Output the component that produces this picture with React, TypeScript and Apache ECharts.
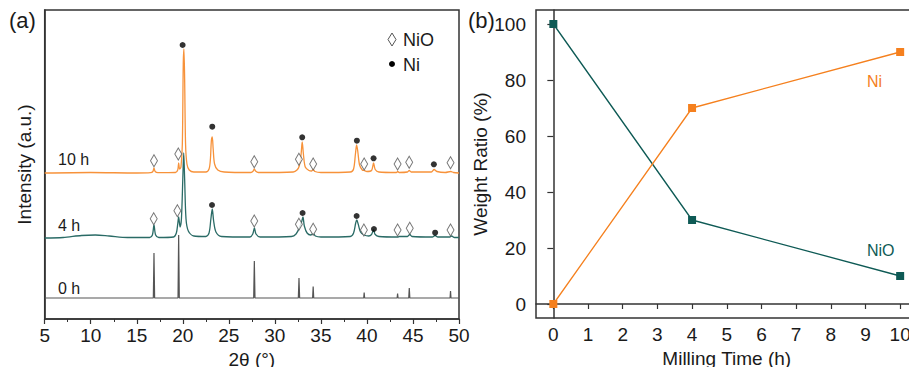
import React, { useEffect, useRef } from "react";
import * as echarts from "echarts";

// ---------- Panel (a): XRD patterns (2θ in degrees, offset intensity in a.u.) ----------
const XRD_0H: [number, number][] = [
  [5, 21], [16.8, 21], [16.87, 66], [16.94, 21], [19.48, 21], [19.55, 84], [19.62, 21],
  [27.7, 21], [27.77, 58], [27.84, 21], [32.55, 21], [32.62, 41], [32.69, 21],
  [34.1, 21], [34.16, 32.5], [34.22, 21], [39.65, 21], [39.7, 26.5], [39.75, 21],
  [43.28, 21], [43.33, 25.5], [43.38, 21], [44.54, 21], [44.6, 31], [44.66, 21],
  [49.03, 21], [49.08, 28], [49.13, 21], [50, 21],
];

const XRD_4H: [number, number][] = [
  [5, 81], [7, 81.5], [9, 83.5], [10.5, 84], [12, 83], [14, 81.5], [16.4, 81.5], [16.7, 84],
  [16.87, 94], [17.05, 84], [17.4, 81.5], [19.0, 82], [19.3, 86], [19.45, 95], [19.55, 102],
  [19.7, 92], [19.85, 100], [20.0, 140], [20.1, 166], [20.2, 140], [20.35, 100], [20.6, 88],
  [21.2, 83], [22.5, 82.5], [22.85, 86], [23.05, 100], [23.2, 110], [23.35, 98], [23.6, 87],
  [24.2, 82.5], [27.3, 82], [27.6, 85], [27.78, 91], [27.95, 85], [28.4, 82], [31.8, 82.5],
  [32.3, 85], [32.7, 92], [32.9, 97], [33.05, 102], [33.2, 93], [33.5, 86], [33.9, 84],
  [34.16, 85.5], [34.4, 83], [35, 82], [38.2, 82.5], [38.55, 86], [38.78, 96], [38.9, 99],
  [39.05, 95], [39.3, 87], [39.7, 84], [40.2, 83], [40.5, 84.5], [40.72, 89], [40.9, 84.5],
  [41.3, 82.5], [43.4, 82], [43.5, 82.5], [44.4, 82.5], [44.65, 84.5], [44.9, 82.5],
  [47.1, 82], [47.4, 83.5], [47.7, 82], [49.0, 82], [49.2, 83], [49.5, 81.5], [50, 81.5],
];

const XRD_10H: [number, number][] = [
  [5, 146], [10, 146.5], [15, 146], [16.5, 146.3], [16.75, 147.5], [16.87, 151], [17.0, 147.5],
  [17.3, 146.3], [19.2, 146.5], [19.45, 149], [19.55, 156], [19.65, 150], [19.8, 152],
  [19.95, 175], [20.05, 255], [20.12, 270], [20.2, 240], [20.3, 175], [20.45, 155], [20.7, 149],
  [21.2, 147], [22.5, 147], [22.85, 150], [23.0, 160], [23.1, 178], [23.2, 182], [23.3, 170],
  [23.45, 155], [23.8, 149], [24.5, 147], [27.4, 146.5], [27.65, 148], [27.76, 150], [27.9, 148],
  [28.2, 146.5], [32.0, 147], [32.4, 149], [32.65, 153], [32.85, 165], [32.97, 177], [33.1, 165],
  [33.3, 152], [33.7, 148.5], [34.0, 148], [34.16, 149.5], [34.35, 147.5], [35, 146.5],
  [38.2, 147], [38.55, 150], [38.75, 165], [38.88, 174], [39.0, 168], [39.2, 154], [39.5, 149],
  [39.7, 148.5], [40.0, 147.5], [40.5, 148.5], [40.72, 156], [40.9, 149.5], [41.3, 147],
  [43.2, 146.5], [43.35, 147.5], [43.5, 146.5], [44.4, 147], [44.6, 148.5], [44.8, 147],
  [47.0, 147], [47.3, 149.5], [47.6, 147.5], [48.5, 146.5], [49.1, 147.5], [49.4, 146.5], [50, 146],
];

// Phase markers (2θ, marker height)
const NIO_MARKS_10H: [number, number][] = [
  [16.87, 158.3], [19.51, 165], [27.76, 157.3], [32.61, 159.7], [34.16, 155],
  [39.7, 155], [43.33, 155], [44.59, 156.7], [49.08, 156.3],
];
const NI_MARKS_10H: [number, number][] = [
  [19.98, 274], [23.2, 192.3], [32.97, 181.7], [38.91, 178.3], [40.72, 160.7], [47.27, 154.7],
];
const NIO_MARKS_4H: [number, number][] = [
  [16.84, 100.3], [19.41, 108.3], [27.76, 98], [32.61, 94.7], [34.16, 89.7],
  [39.67, 89], [43.33, 89], [44.65, 90.7], [49.08, 89],
];
const NI_MARKS_4H: [number, number][] = [
  [23.17, 114], [33.01, 106], [38.88, 103], [40.76, 90], [47.41, 86.3],
];

const X_TICKS_A = [5, 10, 15, 20, 25, 30, 35, 40, 45, 50];

// ---------- Panel (b): weight ratio vs milling time ----------
const MILLING_TIME = [0, 4, 10];
const NIO_RATIO = [100, 30, 10];
const NI_RATIO = [0, 70, 90];
const X_TICKS_B = [0, 1, 2, 3, 4, 5, 6, 7, 8, 9, 10];
const Y_TICKS_B = [0, 20, 40, 60, 80, 100];
const Y_MINOR_B = [10, 30, 50, 70, 90];

const FONT = "'Liberation Sans', Arial, sans-serif";
const TXT = "#1a1a1a";
const AXIS = "#333";
const ORANGE_A = "#F7923A";
const TEAL_A = "#2A6B66";
const ORANGE_B = "#F5801E";
const TEAL_B = "#0E5A55";

export default function App() {
  const ref = useRef<HTMLDivElement>(null);

  useEffect(() => {
    if (!ref.current) return;
    const chart = echarts.init(ref.current, null, { renderer: "svg" });

    const axisLine = { show: true, lineStyle: { color: AXIS, width: 1.5 } };
    const labelStyle = { color: TXT, fontSize: 19, fontFamily: FONT };

    const markSeries = (data: [number, number][], kind: "nio" | "ni") =>
      kind === "nio"
        ? {
            type: "scatter",
            xAxisIndex: 0,
            yAxisIndex: 0,
            symbol: "diamond",
            symbolSize: [7, 12],
            itemStyle: { color: "#fff", borderColor: "#555", borderWidth: 1 },
            data,
            z: 5,
          }
        : {
            type: "scatter",
            xAxisIndex: 0,
            yAxisIndex: 0,
            symbol: "circle",
            symbolSize: 6,
            itemStyle: { color: "#000" },
            data,
            z: 5,
          };

    const option: any = {
      animation: false,
      textStyle: { fontFamily: FONT },
      grid: [
        {
          left: 44.7,
          top: 10,
          width: 414.3,
          height: 309,
          outerBoundsMode: "none",
          containLabel: false,
          show: true,
          borderColor: AXIS,
          borderWidth: 1.5,
          backgroundColor: "transparent",
        },
        {
          left: 536,
          top: 10,
          width: 381.5,
          height: 308,
          outerBoundsMode: "none",
          containLabel: false,
          show: true,
          borderColor: AXIS,
          borderWidth: 1.5,
          backgroundColor: "transparent",
        },
      ],
      xAxis: [
        {
          type: "value",
          gridIndex: 0,
          min: 5,
          max: 50,
          interval: 5,
          axisLine,
          axisTick: { show: true, length: 5, lineStyle: { color: AXIS, width: 1.2 } },
          minorTick: { show: true, splitNumber: 2, length: 3, lineStyle: { color: AXIS, width: 1 } },
          axisLabel: { ...labelStyle, margin: 7, customValues: X_TICKS_A },
          splitLine: { show: false },
          name: "2θ (°)",
          nameLocation: "middle",
          nameGap: 25,
          nameTextStyle: { ...labelStyle },
        },
        {
          type: "value",
          gridIndex: 1,
          min: -0.5,
          max: 10.5,
          axisLine,
          axisTick: { show: true, length: 5, customValues: X_TICKS_B, lineStyle: { color: AXIS, width: 1.2 } },
          axisLabel: { ...labelStyle, margin: 7, customValues: X_TICKS_B },
          splitLine: { show: false },
          name: "Milling Time (h)",
          nameLocation: "middle",
          nameGap: 26,
          nameTextStyle: { ...labelStyle },
        },
      ],
      yAxis: [
        {
          type: "value",
          gridIndex: 0,
          min: 0,
          max: 309,
          axisLine,
          axisTick: { show: false },
          axisLabel: { show: false },
          splitLine: { show: false },
          name: "Intensity (a.u.)",
          nameLocation: "middle",
          nameGap: 11,
          nameTextStyle: { ...labelStyle },
        },
        {
          type: "value",
          gridIndex: 1,
          min: -5,
          max: 105,
          axisLine,
          axisTick: { show: true, length: 6, customValues: Y_TICKS_B, lineStyle: { color: AXIS, width: 1.2 } },
          axisLabel: { ...labelStyle, margin: 10, customValues: Y_TICKS_B },
          splitLine: { show: false },
          name: "Weight Ratio (%)",
          nameLocation: "middle",
          nameGap: 33,
          nameTextStyle: { ...labelStyle },
        },
        {
          type: "value",
          gridIndex: 1,
          min: -5,
          max: 105,
          axisLine: { show: false },
          axisTick: { show: true, length: 3, customValues: Y_MINOR_B, lineStyle: { color: AXIS, width: 1 } },
          axisLabel: { show: false },
          splitLine: { show: false },
        },
      ],
      series: [
        {
          type: "line",
          name: "0 h",
          xAxisIndex: 0,
          yAxisIndex: 0,
          data: XRD_0H,
          showSymbol: false,
          lineStyle: { color: "#555", width: 1.2 },
          z: 2,
        },
        {
          type: "line",
          name: "4 h",
          xAxisIndex: 0,
          yAxisIndex: 0,
          data: XRD_4H,
          showSymbol: false,
          smooth: 0.3,
          lineStyle: { color: TEAL_A, width: 1.3 },
          z: 3,
        },
        {
          type: "line",
          name: "10 h",
          xAxisIndex: 0,
          yAxisIndex: 0,
          data: XRD_10H,
          showSymbol: false,
          smooth: 0.3,
          lineStyle: { color: ORANGE_A, width: 1.3 },
          z: 4,
        },
        markSeries(NIO_MARKS_10H, "nio"),
        markSeries(NI_MARKS_10H, "ni"),
        markSeries(NIO_MARKS_4H, "nio"),
        markSeries(NI_MARKS_4H, "ni"),
        {
          type: "line",
          name: "NiO",
          xAxisIndex: 1,
          yAxisIndex: 1,
          data: MILLING_TIME.map((t, i) => [t, NIO_RATIO[i]]),
          symbol: "rect",
          symbolSize: 8,
          itemStyle: { color: TEAL_B },
          lineStyle: { color: TEAL_B, width: 1.3 },
        },
        {
          type: "line",
          name: "Ni",
          xAxisIndex: 1,
          yAxisIndex: 1,
          data: MILLING_TIME.map((t, i) => [t, NI_RATIO[i]]),
          symbol: "rect",
          symbolSize: 8,
          itemStyle: { color: ORANGE_B },
          lineStyle: { color: ORANGE_B, width: 1.3 },
        },
      ],
      graphic: [
        { type: "text", left: 9, top: 9, style: { text: "(a)", fontSize: 22, fontFamily: FONT, fill: TXT } },
        { type: "text", left: 468, top: 9, style: { text: "(b)", fontSize: 22, fontFamily: FONT, fill: TXT } },
        { type: "text", x: 58, y: 159, style: { text: "10 h", fontSize: 16, fontFamily: FONT, fill: TXT, verticalAlign: "middle" } },
        { type: "text", x: 58, y: 225, style: { text: "4 h", fontSize: 16, fontFamily: FONT, fill: TXT, verticalAlign: "middle" } },
        { type: "text", x: 58, y: 288, style: { text: "0 h", fontSize: 16, fontFamily: FONT, fill: TXT, verticalAlign: "middle" } },
        {
          type: "polygon",
          shape: { points: [[392, 33], [396, 39.5], [392, 46], [388, 39.5]] },
          style: { fill: "#fff", stroke: "#555", lineWidth: 1 },
        },
        { type: "text", x: 403, y: 40, style: { text: "NiO", fontSize: 18, fontFamily: FONT, fill: TXT, verticalAlign: "middle" } },
        { type: "circle", shape: { cx: 392, cy: 64, r: 3 }, style: { fill: "#000" } },
        { type: "text", x: 403, y: 65, style: { text: "Ni", fontSize: 18, fontFamily: FONT, fill: TXT, verticalAlign: "middle" } },
        { type: "text", x: 867, y: 81, style: { text: "Ni", fontSize: 16, fontFamily: FONT, fill: ORANGE_B, verticalAlign: "middle" } },
        { type: "text", x: 867, y: 250, style: { text: "NiO", fontSize: 16, fontFamily: FONT, fill: TEAL_B, verticalAlign: "middle" } },
      ],
    };

    chart.setOption(option);
    return () => chart.dispose();
  }, []);

  return <div ref={ref} style={{ width: 909, height: 367, position: "absolute", left: 0, top: 0 }} />;
}
